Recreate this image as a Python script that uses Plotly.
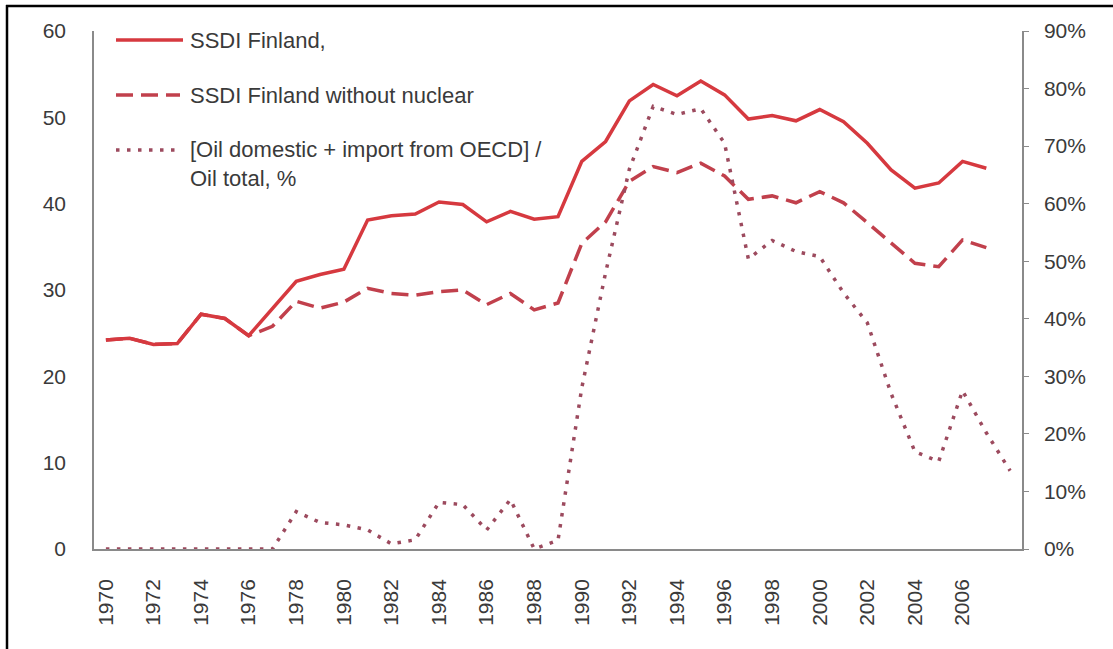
import plotly.graph_objects as go

# Years on the category axis
years = list(range(1970, 2009))

# SSDI Finland (left axis), 1970-2007
ssdi = [24.2, 24.4, 23.7, 23.8, 27.2, 26.7, 24.7, 27.9, 31.0, 31.8,
        32.4, 38.1, 38.6, 38.8, 40.2, 39.9, 37.9, 39.1, 38.2, 38.5,
        44.9, 47.2, 51.9, 53.8, 52.5, 54.2, 52.6, 49.8, 50.2, 49.6,
        50.9, 49.5, 47.0, 43.9, 41.8, 42.4, 44.9, 44.1]

# SSDI Finland without nuclear (left axis), 1970-2007
ssdi_no_nuclear = [24.2, 24.4, 23.7, 23.8, 27.2, 26.7, 24.7, 25.8, 28.7, 27.9,
                   28.6, 30.2, 29.6, 29.4, 29.8, 30.0, 28.3, 29.6, 27.7, 28.5,
                   35.4, 37.9, 42.6, 44.3, 43.6, 44.7, 43.2, 40.5, 40.9, 40.1,
                   41.4, 40.1, 37.8, 35.4, 33.1, 32.7, 35.8, 34.9]

# [Oil domestic + import from OECD] / Oil total, % (right axis), 1970-2008
oil_share = [0, 0, 0, 0, 0, 0, 0, 0, 6.5, 4.6,
             4.2, 3.3, 0.9, 1.6, 8.1, 7.7, 3.3, 8.6, 0, 1.5,
             28.0, 48.0, 66.0, 76.9, 75.5, 76.5, 70.5, 50.4, 53.6, 51.7,
             50.8, 44.5, 39.3, 27.0, 16.9, 15.2, 27.5, 20.2, 13.6]

left_ticks = list(range(0, 61, 10))
right_ticks = list(range(0, 91, 10))
x_ticks = list(range(1970, 2007, 2))

legend_labels = ["SSDI Finland,",
                 "SSDI Finland without nuclear",
                 "[Oil domestic + import from OECD] /<br>Oil total, %"]

C_SOLID = "#d6393f"
C_DASH = "#c1404c"
C_DOT = "#9c4a5e"
TEXT = "#3a3a3a"
AXIS = "#8a8a8a"
FONT = "Liberation Sans, Arial, sans-serif"

W, H = 1113, 649
ML, MR, MT, MB = 94, 91, 31, 100
PW, PH = W - ML - MR, H - MT - MB


def px(x):
    return (x - ML) / PW


def py(y):
    return (H - MB - y) / PH


fig = go.Figure()

fig.add_trace(go.Scatter(
    x=years[:len(ssdi_no_nuclear)], y=ssdi_no_nuclear, mode="lines",
    line=dict(color=C_DASH, width=3.5, dash="17px,8px"),
    name=legend_labels[1]))
fig.add_trace(go.Scatter(
    x=years[:len(ssdi)], y=ssdi, mode="lines",
    line=dict(color=C_SOLID, width=3.5),
    name=legend_labels[0]))
fig.add_trace(go.Scatter(
    x=years[:len(oil_share)], y=oil_share, mode="lines", yaxis="y2",
    line=dict(color=C_DOT, width=3.5, dash="3.5px,7.5px"),
    name=legend_labels[2]))

# Legend drawn as line samples with labels
legend_rows = [
    (40, 183, dict(color=C_SOLID, width=3.5)),
    (95, 180, dict(color=C_DASH, width=3.5, dash="17px,8px")),
    (150, 178, dict(color=C_DOT, width=3.5, dash="3.5px,7.5px")),
]
shapes = []
for y, x_end, ln in legend_rows:
    shapes.append(dict(type="line", xref="paper", yref="paper",
                       x0=px(116), x1=px(x_end), y0=py(y), y1=py(y), line=ln))

# Page frame (top and left edges)
shapes.append(dict(type="line", xref="paper", yref="paper",
                   x0=px(6), x1=px(W + 5), y0=py(6), y1=py(6),
                   line=dict(color="black", width=2.5)))
shapes.append(dict(type="line", xref="paper", yref="paper",
                   x0=px(7), x1=px(7), y0=py(5), y1=py(H + 5),
                   line=dict(color="black", width=2.5)))

annotations = [
    dict(x=px(188), y=py(41), text=legend_labels[0]),
    dict(x=px(188), y=py(96), text=legend_labels[1]),
    dict(x=px(188), y=py(164), text=legend_labels[2]),
]
for a in annotations:
    a.update(xref="paper", yref="paper", xanchor="left", yanchor="middle",
             showarrow=False, align="left",
             font=dict(family=FONT, size=22, color=TEXT))

fig.update_layout(
    width=W, height=H,
    margin=dict(l=ML, r=MR, t=MT, b=MB, pad=0),
    paper_bgcolor="white", plot_bgcolor="white",
    showlegend=False,
    font=dict(family=FONT, size=21, color=TEXT),
    xaxis=dict(range=[1969.5, 2008.5], tickmode="array", tickvals=x_ticks,
               ticktext=[str(v) for v in x_ticks], tickangle=-90,
               showgrid=False, zeroline=False, showline=True,
               linecolor=AXIS, linewidth=1.5, ticks="",
               ticklabelstandoff=20, fixedrange=True),
    yaxis=dict(range=[0, 60], tickvals=left_ticks, showgrid=False,
               zeroline=False, showline=True, linecolor=AXIS, linewidth=1.5,
               ticks="", ticklabelstandoff=22),
    yaxis2=dict(range=[0, 90], tickvals=right_ticks,
                ticktext=[f"{v}%" for v in right_ticks],
                overlaying="y", side="right", showgrid=False, zeroline=False,
                showline=True, linecolor=AXIS, linewidth=1.5,
                ticks="outside", ticklen=5, tickcolor=AXIS,
                ticklabelstandoff=11),
    shapes=shapes,
    annotations=annotations,
)

fig.write_html("out.html")
